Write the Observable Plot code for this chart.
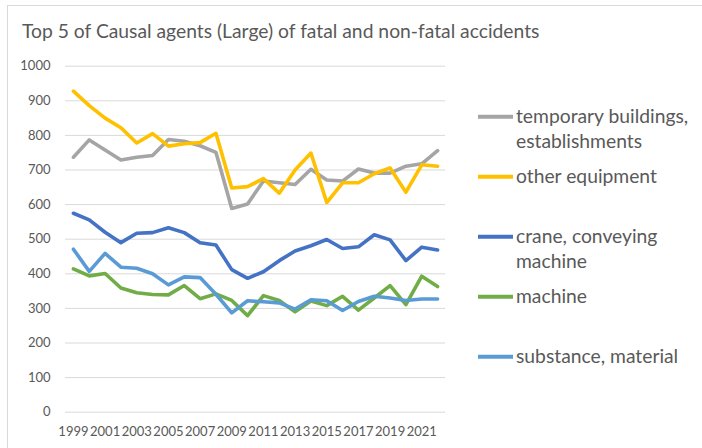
<!DOCTYPE html>
<html>
<head>
<meta charset="utf-8">
<script src="https://cdn.jsdelivr.net/npm/d3@7"></script>
<script src="https://cdn.jsdelivr.net/npm/@observablehq/plot@0.6"></script>
<style>
  body { margin: 0; background: #fff; }
  #wrap { position: relative; width: 702px; height: 448px; overflow: hidden; background: #fff; }
  #chart, #overlay { position: absolute; left: 0; top: 0; }
  #chart svg { font-family: Lato, "Open Sans", sans-serif; }
</style>
</head>
<body>
<div id="wrap"><div id="chart"></div><svg id="overlay" width="702" height="448"></svg></div>
<script>
const titleText = "Top 5 of Causal agents (Large) of fatal and non-fatal accidents";
const years = [1999,2000,2001,2002,2003,2004,2005,2006,2007,2008,2009,2010,2011,2012,2013,2014,2015,2016,2017,2018,2019,2020,2021,2022];
const seriesNames = ["temporary buildings, establishments","other equipment","crane, conveying machine","machine","substance, material"];
const legendLines = [["temporary buildings,","establishments"],["other equipment"],["crane, conveying","machine"],["machine"],["substance, material"]];
const seriesColors = ["#A5A5A5","#FFC000","#4472C4","#70AD47","#5B9BD5"];
const temporaryBuildings = [737,787,758,729,737,742,788,783,770,751,589,602,668,663,658,702,671,668,703,691,691,711,718,756];
const otherEquipment = [928,886,850,822,778,805,769,776,779,806,648,652,675,633,700,749,606,663,663,689,706,636,715,711];
const craneConveying = [575,556,520,490,517,519,533,519,490,483,412,387,406,438,466,481,499,473,478,513,498,438,477,469];
const machine = [414,394,401,359,345,340,339,366,328,342,323,279,337,323,290,321,308,335,295,330,366,311,393,363];
const substanceMaterial = [471,407,459,419,416,400,368,391,389,341,287,322,319,316,298,325,322,294,320,335,330,323,327,327];
const yTicks = [0,100,200,300,400,500,600,700,800,900,1000];
const xTicks = [1999,2001,2003,2005,2007,2009,2011,2013,2015,2017,2019,2021];

const allSeries = [temporaryBuildings, otherEquipment, craneConveying, machine, substanceMaterial];
const rows = [];
allSeries.forEach((vals, s) => vals.forEach((v, i) => rows.push({year: years[i], value: v, series: seriesNames[s]})));

const chart = Plot.plot({
  width: 460,
  height: 448,
  marginLeft: 65,
  marginRight: 15,
  marginTop: 65.7,
  marginBottom: 36.3,
  style: {fontSize: "13px", color: "#595959", background: "transparent"},
  x: {domain: [1998.5, 2022.5], ticks: xTicks, tickFormat: d => String(d), tickSize: 0, tickPadding: 15, label: null},
  y: {domain: [0, 1000], ticks: yTicks, tickFormat: d => String(d), tickSize: 0, tickPadding: 15, label: null},
  color: {domain: seriesNames, range: seriesColors},
  marks: [
    Plot.ruleY(yTicks, {stroke: "#D9D9D9", strokeWidth: 1}),
    Plot.lineY(rows, {x: "year", y: "value", z: "series", stroke: "series", strokeWidth: 3.6, strokeLinejoin: "round", strokeLinecap: "round"})
  ]
});
document.getElementById("chart").appendChild(chart);

const svg = d3.select("#overlay");
svg.append("rect").attr("x", 7.5).attr("y", 5.5).attr("width", 720).attr("height", 460)
  .attr("fill", "none").attr("stroke", "#D9D9D9");
svg.append("text").attr("x", 22).attr("y", 37.5).text(titleText)
  .attr("font-family", "Lato, 'Open Sans', sans-serif").attr("font-size", 19.3).attr("fill", "#595959");

const legendY = [116.7, 176.7, 236.7, 296.7, 356.7];
legendLines.forEach((lines, i) => {
  const g = svg.append("g");
  g.append("line").attr("x1", 478).attr("x2", 513).attr("y1", legendY[i]).attr("y2", legendY[i])
    .attr("stroke", seriesColors[i]).attr("stroke-width", 4);
  lines.forEach((t, j) => {
    g.append("text").attr("x", 516).attr("y", legendY[i] + j * 25).attr("dy", "0.35em").text(t)
      .attr("font-family", "Lato, 'Open Sans', sans-serif").attr("font-size", 19.3).attr("fill", "#595959");
  });
});
</script>
</body>
</html>
